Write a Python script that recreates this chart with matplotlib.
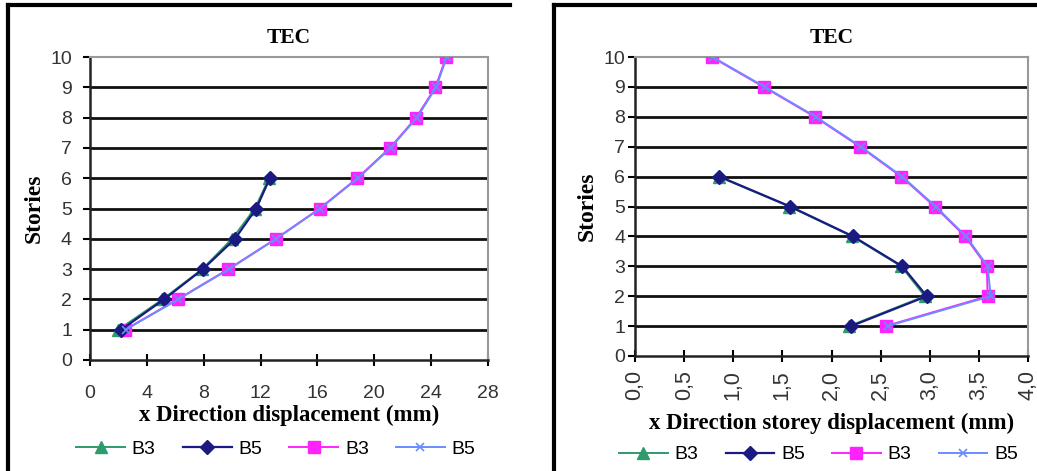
import matplotlib.pyplot as plt
import numpy as np
from matplotlib.lines import Line2D
from matplotlib.ticker import FuncFormatter

W, H = 1037, 471

# stories
stories_6 = [1, 2, 3, 4, 5, 6]
stories_10 = [1, 2, 3, 4, 5, 6, 7, 8, 9, 10]

# left panel: x direction displacement (mm)
disp_b3_6 = [2.0, 5.1, 7.9, 10.0, 11.6, 12.6]
disp_b5_6 = [2.2, 5.2, 7.95, 10.2, 11.7, 12.65]
disp_b3_10 = [2.46, 6.16, 9.74, 13.07, 16.16, 18.8, 21.1, 22.95, 24.3, 25.06]
disp_b5_10 = [2.5, 6.2, 9.78, 13.1, 16.2, 18.85, 21.15, 23.0, 24.35, 25.1]

# right panel: x direction storey displacement (mm)
drift_b3_6 = [2.18, 2.95, 2.71, 2.21, 1.57, 0.85]
drift_b5_6 = [2.20, 2.97, 2.72, 2.22, 1.58, 0.86]
drift_b3_10 = [2.55, 3.59, 3.58, 3.36, 3.05, 2.71, 2.29, 1.83, 1.31, 0.78]
drift_b5_10 = [2.57, 3.62, 3.59, 3.37, 3.06, 2.72, 2.30, 1.84, 1.32, 0.79]

labels = ['B3', 'B5', 'B3', 'B5']

GREEN = '#2e9b6b'
NAVY = '#1a1a80'
MAGENTA = '#ff22ff'
BLUE = '#6a8cff'

serif = ['Liberation Serif', 'DejaVu Serif']
sans = ['Liberation Sans', 'DejaVu Sans']

fig = plt.figure(figsize=(W / 100, H / 100), dpi=100)


def px_axes(x0, x1, y_top, y_bot):
    return fig.add_axes([x0 / W, 1 - y_bot / H, (x1 - x0) / W, (y_bot - y_top) / H])


def style(ax, xmax, xstep, ypad, xpad):
    ax.set_ylim(0, 10)
    ax.set_xlim(0, xmax)
    ax.set_yticks(range(0, 11))
    ax.set_xticks(np.arange(0, xmax + xstep / 2, xstep))
    for y in range(1, 10):
        ax.axhline(y, color='#111111', lw=2.0, zorder=1)
    for s in ['top', 'right']:
        ax.spines[s].set_color('#999999')
        ax.spines[s].set_linewidth(1.5)
    for s in ['left', 'bottom']:
        ax.spines[s].set_color('#222222')
        ax.spines[s].set_linewidth(1.8)
    ax.tick_params(axis='y', direction='out', length=5, width=1.5, pad=ypad)
    ax.tick_params(axis='x', direction='inout', length=8, width=1.5, pad=xpad)
    for lab in ax.get_xticklabels() + ax.get_yticklabels():
        lab.set_family(sans)
        lab.set_fontsize(14)
        lab.set_color('#333333')
    ax.set_title('TEC', family=serif, fontweight='bold', fontsize=15.5, pad=10)
    ax.set_ylabel('Stories', family=serif, fontweight='bold', fontsize=17, labelpad=4)


def draw(ax, a, b, c, d):
    h = []
    h += ax.plot(a, stories_6, color=GREEN, lw=1.4, marker='^', ms=8, zorder=3)
    h += ax.plot(b, stories_6, color=NAVY, lw=1.6, marker='D', ms=7, zorder=4)
    h += ax.plot(c, stories_10, color=MAGENTA, lw=1.4, marker='s', ms=8, zorder=3)
    h += ax.plot(d, stories_10, color=BLUE, lw=1.4, marker='x', ms=6, mew=1.2, zorder=4)
    return h


def legend(ax, h, y):
    ax.legend(h, labels, loc='center', bbox_to_anchor=(0.467, y), ncol=4,
              frameon=False, prop={'family': sans, 'size': 14}, handlelength=2.5,
              columnspacing=1.4, handletextpad=0.35)


# left panel
ax1 = px_axes(90, 488, 57, 360)
h = draw(ax1, disp_b3_6, disp_b5_6, disp_b3_10, disp_b5_10)
style(ax1, 28, 4, 8, 14)
ax1.set_xlabel('x Direction displacement (mm)', family=serif, fontweight='bold',
               fontsize=16.4, labelpad=2)
legend(ax1, h, -0.295)

# right panel
ax2 = px_axes(635, 1028, 57, 356)
h = draw(ax2, drift_b3_6, drift_b5_6, drift_b3_10, drift_b5_10)
style(ax2, 4.0, 0.5, 2, 6)
ax2.xaxis.set_major_formatter(FuncFormatter(lambda v, p: f'{v:.1f}'.replace('.', ',')))
for lab in ax2.get_xticklabels():
    lab.set_rotation(90)
    lab.set_fontsize(15.5)
ax2.set_xlabel('x Direction storey displacement (mm)', family=serif, fontweight='bold',
               fontsize=16.4, labelpad=9)
legend(ax2, h, -0.33)


# panel frames
def frame(x0, x1):
    fig.add_artist(Line2D([x0 / W, x0 / W], [0, 1 - 5 / H], color='black', lw=3,
                          transform=fig.transFigure))
    fig.add_artist(Line2D([x0 / W, x1 / W], [1 - 5 / H, 1 - 5 / H], color='black', lw=3,
                          transform=fig.transFigure))


frame(8, 510)
frame(554, 1037)

fig.savefig('out.png', dpi=100)
